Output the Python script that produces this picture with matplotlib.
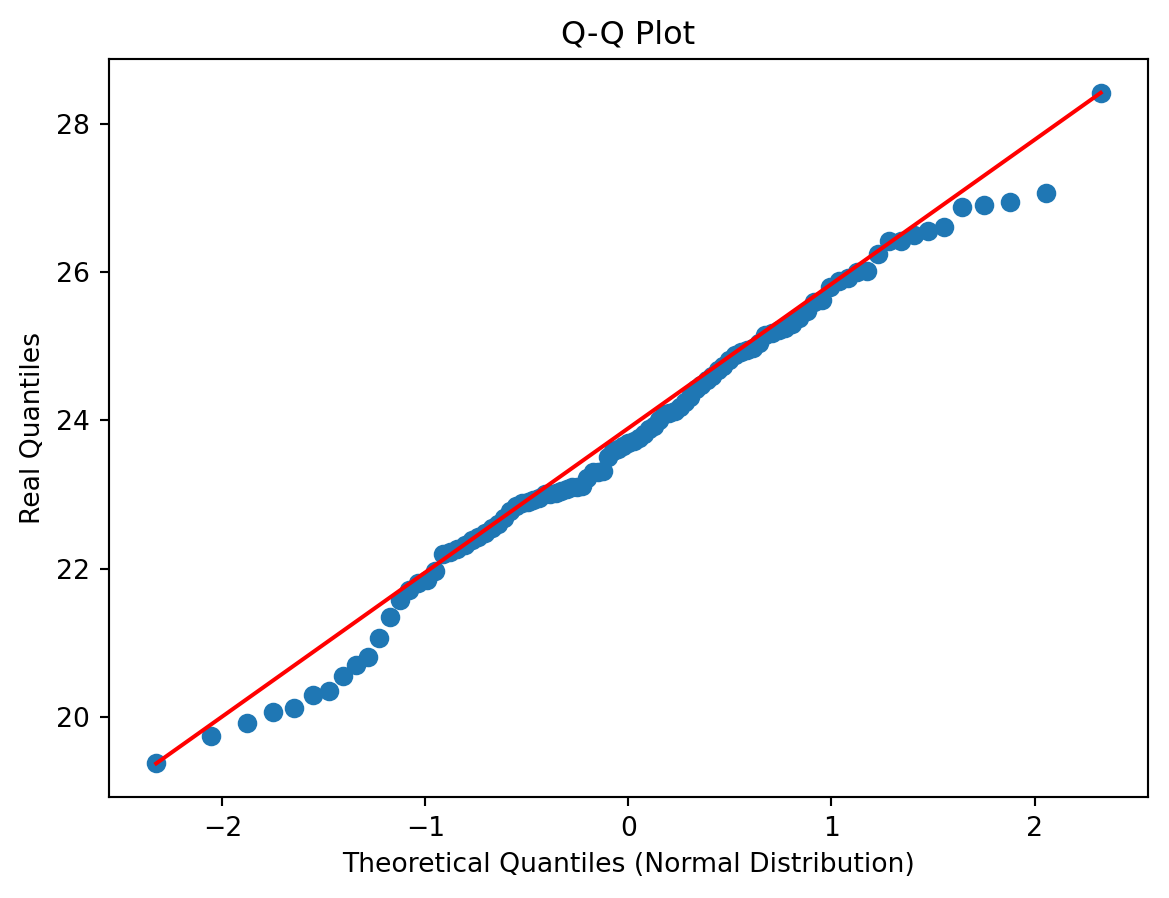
import matplotlib
matplotlib.use("Agg")
import matplotlib.pyplot as plt

# theoretical normal quantiles (p = 0.01 ... 0.99)
theoretical = [
    -2.326, -2.054, -1.881, -1.751, -1.645, -1.555, -1.476, -1.405, -1.341, -1.282,
    -1.227, -1.175, -1.126, -1.080, -1.036, -0.994, -0.954, -0.915, -0.878, -0.842,
    -0.806, -0.772, -0.739, -0.706, -0.674, -0.643, -0.613, -0.583, -0.553, -0.524,
    -0.496, -0.468, -0.440, -0.412, -0.385, -0.358, -0.332, -0.305, -0.279, -0.253,
    -0.228, -0.202, -0.176, -0.151, -0.126, -0.100, -0.075, -0.050, -0.025, 0.000,
    0.025, 0.050, 0.075, 0.100, 0.126, 0.151, 0.176, 0.202, 0.228, 0.253,
    0.279, 0.305, 0.332, 0.358, 0.385, 0.412, 0.440, 0.468, 0.496, 0.524,
    0.553, 0.583, 0.613, 0.643, 0.674, 0.706, 0.739, 0.772, 0.806, 0.842,
    0.878, 0.915, 0.954, 0.994, 1.036, 1.080, 1.126, 1.175, 1.227, 1.282,
    1.341, 1.405, 1.476, 1.555, 1.645, 1.751, 1.881, 2.054, 2.326,
]

# sorted sample values
real = [
    19.37, 19.74, 19.91, 20.07, 20.12, 20.30, 20.35, 20.55, 20.70, 20.81,
    21.06, 21.35, 21.57, 21.71, 21.80, 21.85, 21.97, 22.20, 22.22, 22.26,
    22.32, 22.38, 22.42, 22.48, 22.55, 22.60, 22.68, 22.78, 22.85, 22.88,
    22.90, 22.92, 22.95, 23.00, 23.00, 23.02, 23.05, 23.08, 23.10, 23.10,
    23.12, 23.22, 23.30, 23.30, 23.32, 23.50, 23.58, 23.62, 23.66, 23.70,
    23.72, 23.76, 23.82, 23.88, 23.92, 24.00, 24.08, 24.10, 24.12, 24.18,
    24.25, 24.32, 24.42, 24.48, 24.55, 24.60, 24.68, 24.74, 24.82, 24.88,
    24.92, 24.95, 24.98, 25.05, 25.15, 25.18, 25.22, 25.24, 25.30, 25.38,
    25.48, 25.60, 25.63, 25.80, 25.88, 25.92, 26.00, 26.02, 26.25, 26.42,
    26.42, 26.50, 26.56, 26.61, 26.88, 26.91, 26.94, 27.07, 28.42,
]

DPI = 192
fig, ax = plt.subplots(figsize=(1169 / DPI, 898 / DPI), dpi=DPI)
fig.subplots_adjust(left=0.0932, right=0.982, top=0.934, bottom=0.1125)

ax.scatter(theoretical, real, s=40)
ax.plot([theoretical[0], theoretical[-1]], [real[0], real[-1]], color="red")

ax.set_title("Q-Q Plot")
ax.set_xlabel("Theoretical Quantiles (Normal Distribution)")
ax.set_ylabel("Real Quantiles")

fig.savefig("out.png", dpi=DPI)
plt.close(fig)
